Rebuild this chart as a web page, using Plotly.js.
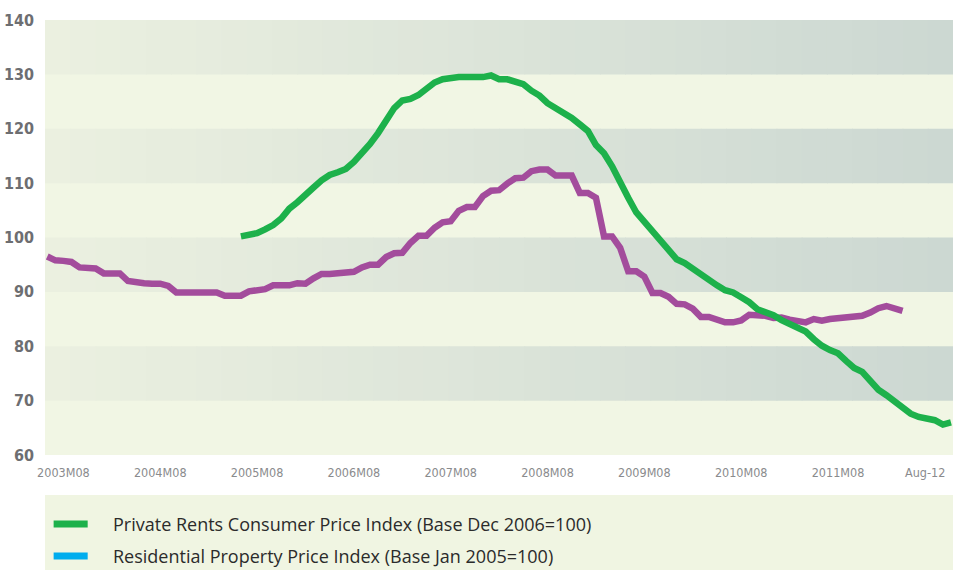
<!DOCTYPE html>
<html><head><meta charset="utf-8">
<script src="https://cdn.plot.ly/plotly-3.0.1.min.js"></script>
<style>html,body{margin:0;padding:0;background:#fff}#chart{width:953px;height:570px}</style>
</head><body><div id="chart"></div>
<script>
// Month index 0 = first observation of the property price series
const xTickVals = [2, 14, 26, 38, 50, 62, 74, 86, 98, 108.8];
const xTickLabels = ['2003M08','2004M08','2005M08','2006M08','2007M08','2008M08','2009M08','2010M08','2011M08','Aug-12'];
const yTickVals = [60, 70, 80, 90, 100, 110, 120, 130, 140];

const seriesNames = [
  'Private Rents Consumer Price Index (Base Dec 2006=100)',
  'Residential Property Price Index (Base Jan 2005=100)'
];

// Residential Property Price Index, monthly from index 0
const propertyValues = [
  96.5, 95.8, 95.7, 95.5, 94.5, 94.5, 94.3, 93.4, 93.4, 93.4,
  92.0, 91.7, 91.6, 91.5, 91.5, 91.1, 89.9, 89.9, 89.9, 89.9,
  89.9, 89.9, 89.3, 89.3, 89.3, 90.1, 90.2, 90.5, 91.2, 91.1,
  91.2, 91.6, 91.5, 92.5, 93.3, 93.3, 93.4, 93.6, 93.7, 94.5,
  95.0, 95.0, 96.4, 97.1, 97.2, 99.0, 100.3, 100.3, 101.8, 102.8,
  103.0, 104.9, 105.6, 105.6, 107.6, 108.6, 108.7, 109.9, 110.9, 111.0,
  112.2, 112.5, 112.5, 111.4, 111.3, 111.4, 108.2, 108.2, 107.3, 100.2,
  100.2, 98.1, 93.8, 93.8, 92.8, 89.8, 89.8, 89.1, 87.8, 87.7,
  86.9, 85.4, 85.4, 85.0, 84.4, 84.4, 84.75, 85.8, 85.8, 85.6,
  85.2, 85.3, 84.9, 84.6, 84.4, 85.0, 84.7, 85.0, 85.2, 85.2,
  85.4, 85.6, 86.2, 87.0, 87.4, 87.05, 86.5
];

// Private Rents CPI, monthly from index 24
const rentsStart = 24;
const rentsValues = [
  100.2, 100.5, 100.8, 101.5, 102.3, 103.5, 105.3, 106.5, 107.7, 109.2,
  110.5, 111.5, 112.0, 112.6, 113.9, 115.4, 117.2, 119.2, 121.7, 123.8,
  125.2, 125.5, 126.2, 127.3, 128.5, 129.1, 129.4, 129.5, 129.5, 129.5,
  129.5, 129.8, 129.1, 129.1, 128.8, 128.2, 127.0, 126.1, 124.7, 123.8,
  123.1, 122.0, 120.8, 119.6, 117.0, 115.5, 113.1, 110.5, 107.3, 104.6,
  102.8, 101.0, 99.3, 97.5, 96.0, 95.3, 94.2, 93.3, 92.3, 91.2,
  90.3, 89.9, 89.0, 88.1, 86.8, 86.4, 85.7, 84.8, 84.0, 83.4,
  82.7, 81.3, 80.1, 79.3, 78.7, 77.3, 76.0, 75.3, 73.6, 72.0,
  71.0, 69.9, 68.8, 67.6, 67.0, 66.8, 66.4, 65.6, 66.0
];

const GREEN = '#1db14b', PURPLE = '#a34c9c', BLUE = '#00adee';
const LIGHT = [241, 246, 228];
const DARK_LEFT = [235, 240, 224], DARK_RIGHT = [204, 216, 210];

const propX = propertyValues.map((_, i) => i);
const rentX = rentsValues.map((_, i) => i + rentsStart);

const traces = [
  {x: propX, y: propertyValues, type: 'scatter', mode: 'lines', name: seriesNames[1],
   line: {color: PURPLE, width: 6.5}, showlegend: false, hoverinfo: 'x+y'},
  {x: rentX, y: rentsValues, type: 'scatter', mode: 'lines', name: seriesNames[0],
   line: {color: GREEN, width: 6.5}, showlegend: false, hoverinfo: 'x+y'}
];

// Background bands: darker bands get a left-to-right gradient
const shapes = [];
const strips = 36;
for (let k = 0; k < yTickVals.length - 1; k++) {
  const y0 = yTickVals[k], y1 = yTickVals[k + 1];
  if (k % 2 === 0) continue; // light band = plot background
  for (let s = 0; s < strips; s++) {
    const t = s / (strips - 1);
    const c = DARK_LEFT.map((v, j) => Math.round(v + (DARK_RIGHT[j] - v) * t));
    shapes.push({type: 'rect', xref: 'paper', yref: 'y', layer: 'below',
      x0: s / strips, x1: (s + 1) / strips + 0.001, y0: y0, y1: y1,
      line: {width: 0}, fillcolor: `rgb(${c.join(',')})`});
  }
}
// Legend panel
shapes.push({type: 'rect', xref: 'paper', yref: 'paper', x0: 0, x1: 1.01, y0: -0.092, y1: -0.27,
  line: {width: 0}, fillcolor: 'rgb(240,245,226)'});
const legendColors = [GREEN, BLUE];
const legendY = [-0.1586, -0.232];
const annotations = [];
seriesNames.forEach((nm, i) => {
  shapes.push({type: 'line', xref: 'paper', yref: 'paper', x0: 0.0095, x1: 0.047,
    y0: legendY[i], y1: legendY[i], line: {color: legendColors[i], width: 7}});
  annotations.push({xref: 'paper', yref: 'paper', x: 0.0725, y: legendY[i], xanchor: 'left', yanchor: 'middle',
    text: nm, showarrow: false, font: {family: 'Open Sans, sans-serif', size: 18, color: '#2b2b2b'}});
});

const layout = {
  width: 953, height: 570,
  margin: {l: 45, r: 0, t: 20, b: 115},
  paper_bgcolor: '#ffffff',
  plot_bgcolor: `rgb(${LIGHT.join(',')})`,
  showlegend: false,
  xaxis: {range: [-0.28, 112.25], tickvals: xTickVals, ticktext: xTickLabels,
    showgrid: false, zeroline: false, showline: false, ticks: '',
    ticklabelstandoff: 8,
    tickfont: {family: 'Liberation Sans Narrow, DejaVu Sans Condensed, sans-serif', size: 12.5, color: '#8a8b8d'}},
  yaxis: {range: [60, 140], tickvals: yTickVals, showgrid: false, zeroline: false, showline: false,
    ticks: '', ticklabelstandoff: 10,
    tickfont: {family: 'Liberation Sans Narrow, DejaVu Sans Condensed, sans-serif', size: 16, color: '#6d6e71', weight: 'bold'}},
  shapes: shapes,
  annotations: annotations
};

Plotly.newPlot('chart', traces, layout, {staticPlot: true, displayModeBar: false});
</script>
</body></html>
